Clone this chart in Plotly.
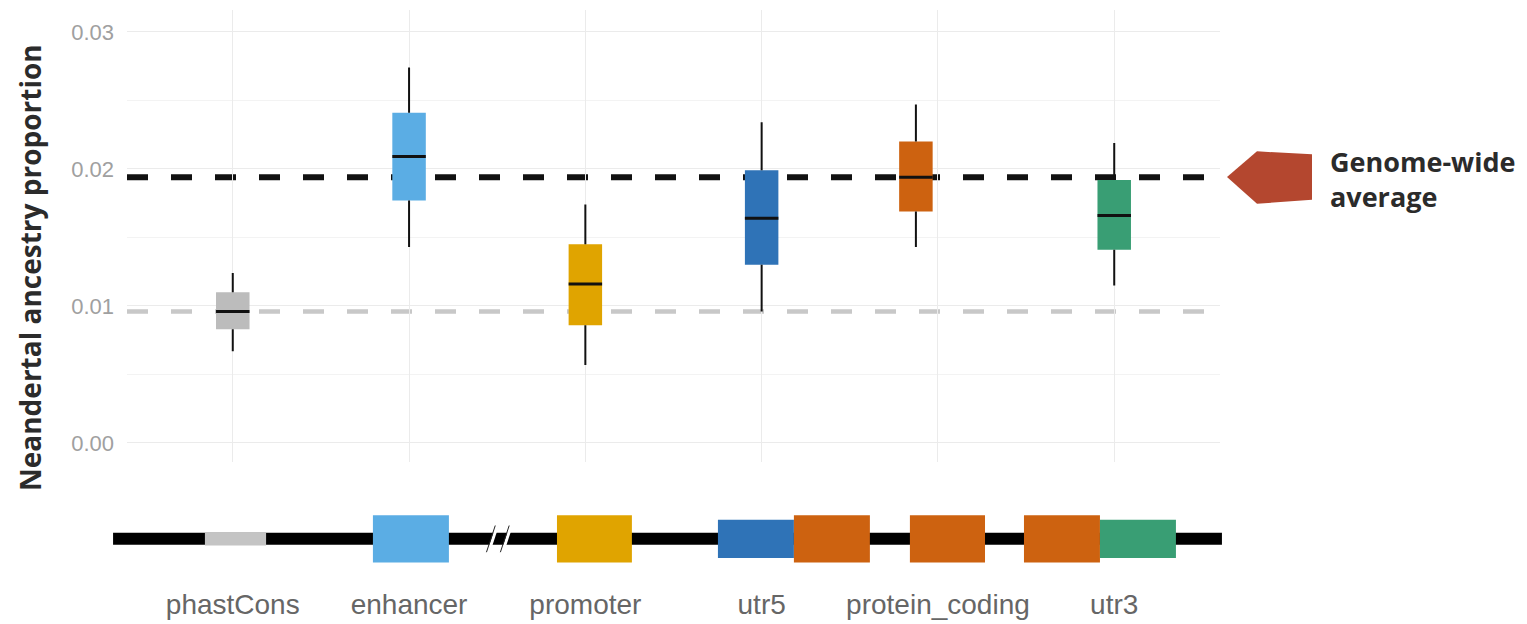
import plotly.graph_objects as go

# ---------------- data ----------------
categories = ["phastCons", "enhancer", "promoter", "utr5", "protein_coding", "utr3"]
lower_whisker = [0.0067, 0.0143, 0.0057, 0.0096, 0.0143, 0.0115]
q1_values     = [0.0083, 0.0177, 0.0086, 0.0130, 0.0169, 0.0141]
median_values = [0.0096, 0.0209, 0.0116, 0.0164, 0.0194, 0.0166]
q3_values     = [0.0110, 0.0241, 0.0145, 0.0199, 0.0220, 0.0192]
upper_whisker = [0.0124, 0.0274, 0.0174, 0.0234, 0.0247, 0.0219]
genome_wide_average = 0.0194
phastcons_average = 0.0096
y_tick_values = [0.00, 0.01, 0.02, 0.03]
y_tick_labels = ["0.00", "0.01", "0.02", "0.03"]

# gene-structure sketch (x in category units)
feature_names = ["phastCons", "enhancer", "promoter", "utr5", "cds1", "cds2", "cds3", "utr3"]
feature_start = [0.842, 1.795, 2.839, 3.752, 4.183, 4.841, 5.488, 5.919]
feature_end   = [1.189, 2.226, 3.264, 4.183, 4.614, 5.267, 5.919, 6.350]
backbone = [0.321, 6.611]
break_marks = [2.476, 2.555]

# ---------------- styles / layout constants ----------------
box_colors = ["#bcbcbc", "#5badE4", "#e0a400", "#2f73b7", "#cd6210", "#399e74"]
feature_colors = ["#c4c4c4", "#5badE4", "#e0a400", "#2f73b7", "#cd6210", "#cd6210", "#cd6210", "#399e74"]
feature_half = [0.15, 0.53, 0.53, 0.43, 0.53, 0.53, 0.53, 0.43]
box_offset = [0, 0, 0, 0, -0.125, 0]
BOX_W = 0.19

W, H = 1527, 624
L, R, T, B = 100, 300, 10, 4
PW, PH = W - L - R, H - T - B


def pxx(px):
    return (px - L) / PW


def pxy(py):
    return (T + PH - py) / PH


X_RANGE = [0.4, 6.6]
u_per_px = (X_RANGE[1] - X_RANGE[0]) / (1220 - 127)
x2_range = [X_RANGE[0] - (127 - L) * u_per_px, X_RANGE[1] + (L + PW - 1220) * u_per_px]
Y_RANGE = [-0.00137, 0.0316]

fig = go.Figure()

positions = [i + 1 + off for i, off in enumerate(box_offset)]

# boxes (fill only)
for i, cat in enumerate(categories):
    fig.add_trace(go.Box(
        x=[positions[i]], q1=[q1_values[i]], median=[median_values[i]], q3=[q3_values[i]],
        lowerfence=[lower_whisker[i]], upperfence=[upper_whisker[i]],
        fillcolor=box_colors[i], line=dict(color=box_colors[i], width=0),
        width=BOX_W, whiskerwidth=0, boxpoints=False, showlegend=False,
        hoverinfo="skip", xaxis="x", yaxis="y", name=cat,
    ))

# whiskers and medians
for i, cat in enumerate(categories):
    p = positions[i]
    fig.add_trace(go.Scatter(
        x=[p, p, None, p, p],
        y=[lower_whisker[i], q1_values[i], None, q3_values[i], upper_whisker[i]],
        mode="lines", line=dict(color="#111111", width=2), showlegend=False,
        hoverinfo="skip", xaxis="x", yaxis="y",
    ))
    fig.add_trace(go.Scatter(
        x=[p - BOX_W / 2, p + BOX_W / 2], y=[median_values[i], median_values[i]],
        mode="lines", line=dict(color="#111111", width=3), showlegend=False,
        hoverinfo="skip", xaxis="x", yaxis="y",
    ))

# tick-label carrier for the bottom category labels
fig.add_trace(go.Scatter(x=[1, 2, 3, 4, 5, 6], y=[0] * 6, mode="markers",
                         marker=dict(opacity=0), showlegend=False, hoverinfo="skip",
                         xaxis="x2", yaxis="y2"))

shapes = []
# reference dashed lines
shapes.append(dict(type="line", xref="paper", yref="y", x0=pxx(127), x1=pxx(1217),
                   y0=phastcons_average, y1=phastcons_average, layer="below",
                   line=dict(color="#c8c8c8", width=4.5, dash="21px,23px")))
shapes.append(dict(type="line", xref="paper", yref="y", x0=pxx(127), x1=pxx(1217),
                   y0=genome_wide_average, y1=genome_wide_average, layer="below",
                   line=dict(color="#111111", width=6, dash="21px,23px")))

# gene backbone
shapes.append(dict(type="line", xref="x2", yref="y2", x0=backbone[0], x1=backbone[1],
                   y0=0, y1=0, line=dict(color="#000000", width=12)))
# break marks
for bx in break_marks:
    shapes.append(dict(type="line", xref="x2", yref="y2", x0=bx - 0.025, x1=bx + 0.025,
                       y0=-0.3, y1=0.3, line=dict(color="#ffffff", width=3)))
    shapes.append(dict(type="line", xref="x2", yref="y2", x0=bx - 0.012 - 0.025, x1=bx - 0.012 + 0.025,
                       y0=-0.3, y1=0.3, line=dict(color="#222222", width=1)))
# features
for i, name in enumerate(feature_names):
    shapes.append(dict(type="rect", xref="x2", yref="y2", x0=feature_start[i], x1=feature_end[i],
                       y0=-feature_half[i], y1=feature_half[i],
                       fillcolor=feature_colors[i], line=dict(width=0)))

# arrow pointing at the genome-wide average line
arrow_px = [(1227, 179), (1257, 153), (1312, 156), (1312, 202), (1257, 206)]
path = "M " + " L ".join(f"{pxx(a):.5f},{pxy(b):.5f}" for a, b in arrow_px) + " Z"
shapes.append(dict(type="path", xref="paper", yref="paper", path=path,
                   fillcolor="#b4472f", line=dict(width=0)))

fig.update_layout(
    width=W, height=H,
    margin=dict(l=L, r=R, t=T, b=B),
    paper_bgcolor="white", plot_bgcolor="white",
    shapes=shapes,
    xaxis=dict(domain=[pxx(127), pxx(1220)], range=X_RANGE, tickvals=[1, 2, 3, 4, 5, 6],
               showticklabels=False, showgrid=True, gridcolor="#ebebeb", gridwidth=1,
               zeroline=False, showline=False, ticks="", anchor="y", fixedrange=True),
    yaxis=dict(domain=[pxy(467), pxy(10)], range=Y_RANGE, tickvals=y_tick_values,
               ticktext=y_tick_labels, showgrid=True, gridcolor="#ebebeb", gridwidth=1,
               minor=dict(dtick=0.005, tick0=0, showgrid=True, gridcolor="#f3f3f3", gridwidth=1),
               zeroline=False, showline=False, ticks="", ticklabelstandoff=12,
               tickfont=dict(family="Liberation Sans, Arial", size=22, color="#a0a0a0"),
               anchor="x", fixedrange=True),
    xaxis2=dict(domain=[0, 1], range=x2_range, tickvals=[1, 2, 3, 4, 5, 6], ticktext=categories,
                showgrid=False, zeroline=False, showline=False, ticks="", anchor="y2",
                tickfont=dict(family="Liberation Sans, Arial", size=28, color="#666666"),
                ticklabelstandoff=2, fixedrange=True),
    yaxis2=dict(domain=[pxy(590), pxy(500)], range=[-1, 1], visible=False, anchor="x2",
                fixedrange=True),
    annotations=[
        dict(text="<b>Neandertal ancestry proportion</b>", textangle=-90, xref="paper", yref="paper",
             x=pxx(30), y=pxy(271), xanchor="center", yanchor="middle", showarrow=False,
             font=dict(family="Open Sans, Lato", size=28, color="#2b2b2b")),
        dict(text="<b>Genome-wide<br>average</b>", xref="paper", yref="paper",
             x=pxx(1328), y=pxy(181), xanchor="left", yanchor="middle", align="left",
             showarrow=False,
             font=dict(family="Open Sans, Lato", size=27, color="#2b2b2b")),
    ],
)

fig.write_html("out.html", config={"displayModeBar": False},
               post_script="document.body.style.margin='0px';")
